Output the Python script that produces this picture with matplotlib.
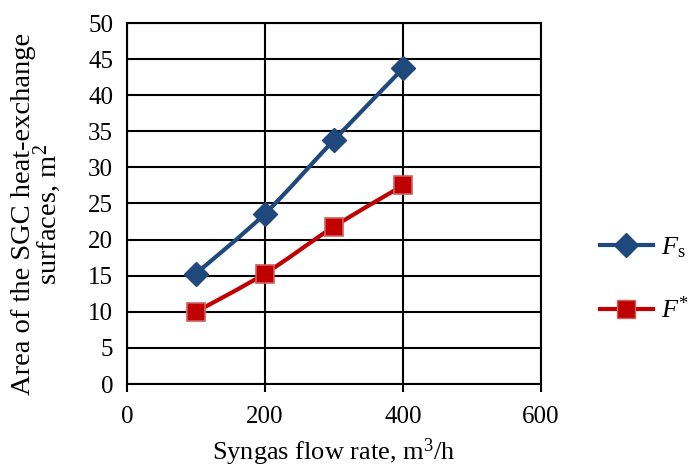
import matplotlib
matplotlib.use("Agg")
import matplotlib.pyplot as plt
import numpy as np
from matplotlib.path import Path
from matplotlib.patches import PathPatch
from matplotlib.lines import Line2D

flow = [100, 200, 300, 400]
fs = [15.3, 23.6, 33.8, 43.7]
fstar = [10.0, 15.3, 21.8, 27.5]
xticks = [0, 200, 400, 600]
yticks = list(range(0, 55, 5))

plt.rcParams['font.family'] = ['Liberation Serif', 'DejaVu Serif']
plt.rcParams['mathtext.fontset'] = 'custom'
plt.rcParams['mathtext.rm'] = 'Liberation Serif'
plt.rcParams['mathtext.it'] = 'Liberation Serif:italic'

FS = 18
fig = plt.figure(figsize=(6.89, 4.69), dpi=100)
ax = fig.add_axes([127/689, 1-384/469, (541-127)/689, (384-23)/469])
ax.set_xlim(0, 600)
ax.set_ylim(0, 50)
ax.set_xticks(xticks)
ax.set_yticks(yticks)
ax.grid(True, color='black', linewidth=1.5)
for s in ax.spines.values():
    s.set_color('black')
    s.set_linewidth(1.5)
ax.tick_params(axis='both', labelsize=FS, color='black')
ax.tick_params(axis='x', direction='out', length=6, width=1.5, pad=10)
ax.tick_params(axis='y', length=0, pad=10)

def smooth_path(x, y):
    p = np.column_stack([x, y]).astype(float)
    n = len(p)
    verts = [p[0]]
    codes = [Path.MOVETO]
    for i in range(n - 1):
        p0 = p[i - 1] if i > 0 else p[i]
        p1 = p[i]
        p2 = p[i + 1]
        p3 = p[i + 2] if i + 2 < n else p[i + 1]
        c1 = p1 + (p2 - p0) / 6.0
        c2 = p2 - (p3 - p1) / 6.0
        verts += [c1, c2, p2]
        codes += [Path.CURVE4] * 3
    return Path(verts, codes)

blue = '#1F497D'
red = '#C00000'
for y, c in [(fs, blue), (fstar, red)]:
    ax.add_patch(PathPatch(smooth_path(flow, y), facecolor='none', edgecolor=c, linewidth=3, zorder=3))
ax.plot(flow, fs, linestyle='none', marker='D', markersize=12, color=blue, zorder=4, clip_on=False)
ax.plot(flow, fstar, linestyle='none', marker='s', markersize=12.5, markerfacecolor=red,
        markeredgecolor='#D06060', markeredgewidth=1.2, zorder=4, clip_on=False)

ax.set_xlabel('Syngas flow rate, m$^3$/h', fontsize=19, labelpad=6)
ax.set_ylabel('Area of the SGC heat-exchange\nsurfaces, m$^2$', fontsize=20.5, linespacing=0.8)
ax.yaxis.set_label_coords(-64/414, 0.47)

handles = [
    Line2D([], [], color=blue, linewidth=3, marker='D', markersize=12),
    Line2D([], [], color=red, linewidth=3, marker='s', markersize=12.5,
           markerfacecolor=red, markeredgecolor='#D06060'),
]
fig.legend(handles, [r'$\mathit{F}_{\mathrm{s}}$', r'$\mathit{F}^{*}$'],
           loc='center left', bbox_to_anchor=(600/689, 1-279/469), frameon=False,
           fontsize=19, handlelength=2.0, labelspacing=1.4, handletextpad=0.3,
           borderpad=0, borderaxespad=0)

fig.savefig('out.png', dpi=100)
